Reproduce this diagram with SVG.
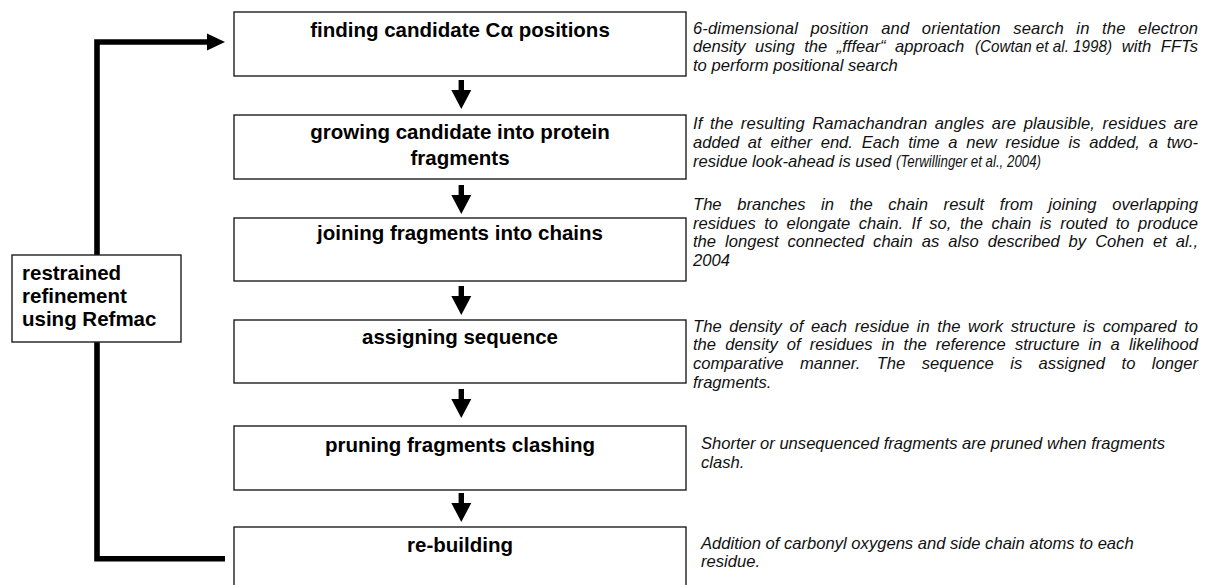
<svg xmlns="http://www.w3.org/2000/svg" width="1213" height="585" viewBox="0 0 1213 585">
<style>
.box{fill:#fff;stroke:#1e1e1e;stroke-width:1.4}
.t{font-family:"Liberation Sans",Arial,sans-serif;font-weight:bold;font-size:20.5px;fill:#000;text-anchor:middle}
.l{font-family:"Liberation Sans",Arial,sans-serif;font-weight:bold;font-size:20.5px;fill:#000}
.d{font-family:"Liberation Sans",Arial,sans-serif;font-style:italic;font-size:16.6px;fill:#111}
.conn{fill:none;stroke:#000;stroke-width:5.6;stroke-linejoin:miter}
</style>
<defs>
<path id="dn" d="M-2.7,0 H2.7 V10 H10 L0,29 L-10,10 H-2.7 Z" fill="#000"/>
</defs>

<g id="connectors">
<path class="conn" d="M225,558.8 H97 V42 H210"/>
<polygon points="207,33.5 225,42 207,50.5" fill="#000"/>
<use href="#dn" transform="translate(461.3,80)"/>
<use href="#dn" transform="translate(461.3,185)"/>
<use href="#dn" transform="translate(461.3,286)"/>
<use href="#dn" transform="translate(461.3,389)"/>
<use href="#dn" transform="translate(461.3,493)"/>
</g>

<g id="node-refmac">
<rect class="box" x="12" y="255" width="169" height="87"/>
<text class="l" x="22" y="280">restrained</text>
<text class="l" x="22" y="303">refinement</text>
<text class="l" x="22" y="326">using Refmac</text>
</g>

<g id="node-finding">
<rect class="box" x="234" y="12" width="452" height="64"/>
<text class="t" x="460" y="37">finding candidate Cα positions</text>
<text class="d" x="693" y="33.5" textLength="505" lengthAdjust="spacing" style="word-spacing:7.8px">6-dimensional position and orientation search in the electron</text>
<text class="d" x="693" y="52.2" style="word-spacing:4.84px">density using the „fffear“ approach</text>
<text class="d" x="975" y="52.2" textLength="137" lengthAdjust="spacingAndGlyphs">(Cowtan et al. 1998)</text>
<text class="d" x="1198" y="52.2" text-anchor="end" style="word-spacing:4.84px">with FFTs</text>
<text class="d" x="693" y="71">to perform positional search</text>
</g>

<g id="node-growing">
<rect class="box" x="234" y="115" width="452" height="64"/>
<text class="t" x="460" y="139">growing candidate into protein</text>
<text class="t" x="460" y="165">fragments</text>
<text class="d" x="693" y="129" textLength="505" lengthAdjust="spacing" style="word-spacing:2.7px">If the resulting Ramachandran angles are plausible, residues are</text>
<text class="d" x="693" y="147.7" textLength="505" lengthAdjust="spacing" style="word-spacing:4.1px">added at either end. Each time a new residue is added, a two-</text>
<text class="d" x="693" y="166.5">residue look-ahead is used</text>
<text class="d" x="896" y="166.5" textLength="145" lengthAdjust="spacingAndGlyphs">(Terwillinger et al., 2004)</text>
</g>

<g id="node-joining">
<rect class="box" x="234" y="218" width="452" height="63"/>
<text class="t" x="460" y="240">joining fragments into chains</text>
<text class="d" x="693" y="210" textLength="505" lengthAdjust="spacing" style="word-spacing:11px">The branches in the chain result from joining overlapping</text>
<text class="d" x="693" y="228.5" textLength="505" lengthAdjust="spacing" style="word-spacing:3.9px">residues to elongate chain. If so, the chain is routed to produce</text>
<text class="d" x="693" y="247" textLength="505" lengthAdjust="spacing" style="word-spacing:4.4px">the longest connected chain as also described by Cohen et al.,</text>
<text class="d" x="693" y="265.5">2004</text>
</g>

<g id="node-assigning">
<rect class="box" x="234" y="320" width="452" height="63"/>
<text class="t" x="460" y="344">assigning sequence</text>
<text class="d" x="693" y="331.5" textLength="505" lengthAdjust="spacing" style="word-spacing:3px">The density of each residue in the work structure is compared to</text>
<text class="d" x="693" y="350.2" textLength="505" lengthAdjust="spacing" style="word-spacing:4.5px">the density of residues in the reference structure in a likelihood</text>
<text class="d" x="693" y="369" textLength="505" lengthAdjust="spacing" style="word-spacing:11.8px">comparative manner. The sequence is assigned to longer</text>
<text class="d" x="693" y="387.7">fragments.</text>
</g>

<g id="node-pruning">
<rect class="box" x="234" y="426" width="452" height="64"/>
<text class="t" x="460" y="452">pruning fragments clashing</text>
<text class="d" x="701" y="449">Shorter or unsequenced fragments are pruned when fragments</text>
<text class="d" x="701" y="468">clash.</text>
</g>

<g id="node-rebuilding">
<rect class="box" x="234" y="527" width="452" height="80"/>
<text class="t" x="460" y="552">re-building</text>
<text class="d" x="701" y="548.5">Addition of carbonyl oxygens and side chain atoms to each</text>
<text class="d" x="701" y="567">residue.</text>
</g>
</svg>
